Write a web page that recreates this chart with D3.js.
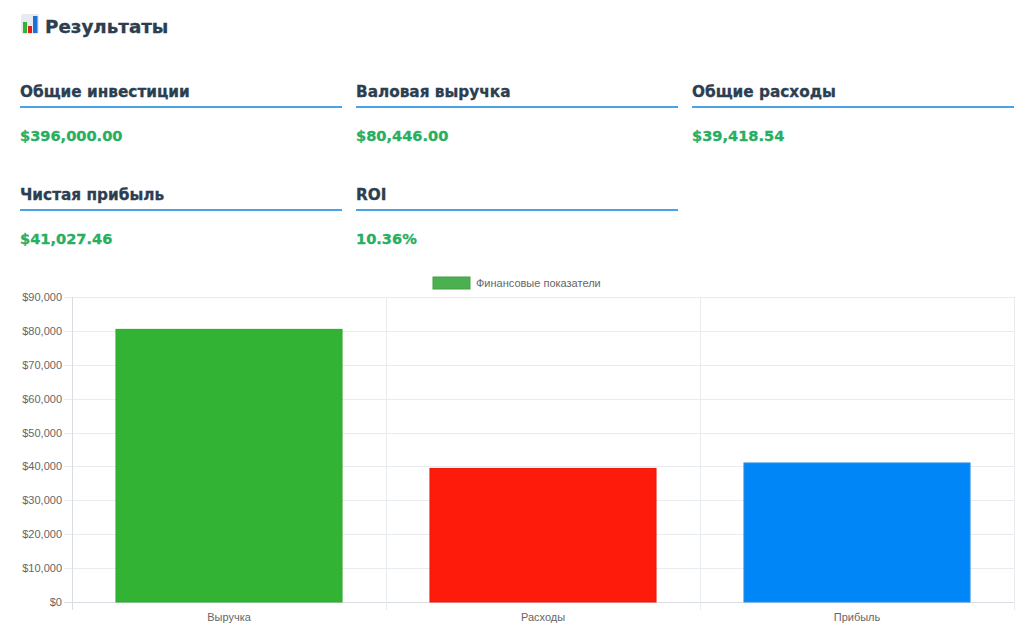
<!DOCTYPE html>
<html lang="ru">
<head>
<meta charset="UTF-8">
<title>Результаты</title>
<script src="https://d3js.org/d3.v7.min.js"></script>
<style>
  body { margin: 0; background: #fff; }
  svg { display: block; }
</style>
</head>
<body>
<script>

    var cardTitles = ["Общие инвестиции", "Валовая выручка", "Общие расходы", "Чистая прибыль", "ROI"];
    var cardValues = ["$396,000.00", "$80,446.00", "$39,418.54", "$41,027.46", "10.36%"];

    var categories = ["Выручка", "Расходы", "Прибыль"];
    var values = [80446.00, 39418.54, 41027.46];
    var barColors = ["#33b333", "#ff1b0b", "#0086f7"];
    var barBorders = ["#2ea82e", "#e8180a", "#2a8ee8"];
    var legendLabel = "Финансовые показатели";
    var yTicks = [0, 10000, 20000, 30000, 40000, 50000, 60000, 70000, 80000, 90000];

    var W = 1024, H = 630;
    var svg = d3.select("body").append("svg")
        .attr("width", W)
        .attr("height", H);

    var headFont = "DejaVu Sans, Verdana, sans-serif";

    // header icon
    var icon = svg.append("g").attr("transform", "translate(21,14)");
    icon.append("rect").attr("width", 18).attr("height", 20).attr("rx", 2).attr("fill", "#e6ebf0");
    icon.append("rect").attr("x", 2).attr("y", 8).attr("width", 4).attr("height", 11).attr("fill", "#2fb52f");
    icon.append("rect").attr("x", 7).attr("y", 12).attr("width", 4).attr("height", 7).attr("fill", "#e0201a");
    icon.append("rect").attr("x", 12).attr("y", 2).attr("width", 4.5).attr("height", 17).attr("fill", "#1e6fd9");

    svg.append("text")
        .attr("x", 45).attr("y", 33)
        .attr("font-family", headFont)
        .attr("font-weight", "bold")
        .attr("font-size", 18.3)
        .attr("fill", "#2c3e50")
        .attr("stroke", "#2c3e50").attr("stroke-width", 0.3)
        .text("Результаты");

    // stat cards
    var colX = [20, 356, 692];
    var rowY = [97, 200];
    var cards = svg.selectAll("g.card").data(cardTitles).enter().append("g")
        .attr("class", "card")
        .attr("transform", function (d, i) { return "translate(" + colX[i % 3] + "," + rowY[Math.floor(i / 3)] + ")"; });

    cards.append("text")
        .attr("font-family", headFont)
        .attr("font-weight", "bold")
        .attr("font-size", 15.3)
        .attr("fill", "#2c3e50")
        .attr("stroke", "#2c3e50").attr("stroke-width", 0.3)
        .text(function (d) { return d; });

    cards.append("rect")
        .attr("x", 0).attr("y", 9)
        .attr("width", 322).attr("height", 2)
        .attr("fill", "#4aa3e6");

    cards.append("text")
        .attr("y", 44)
        .attr("font-family", headFont)
        .attr("font-weight", "bold")
        .attr("font-size", 14.6)
        .attr("fill", "#27ae60")
        .attr("stroke", "#27ae60").attr("stroke-width", 0.3)
        .text(function (d, i) { return cardValues[i]; });

    // bar chart
    var plotL = 72, plotR = 1014, plotT = 297, plotB = 602;
    var font = "Liberation Sans, Helvetica, Arial, sans-serif";

    var x = d3.scaleBand().domain(categories).range([plotL, plotR]).paddingInner(0).paddingOuter(0);
    var y = d3.scaleLinear().domain([0, 90000]).range([plotB, plotT]);

    var grid = svg.append("g");
    grid.selectAll("line.h").data(yTicks).enter().append("line")
        .attr("x1", plotL - 8).attr("x2", plotR)
        .attr("y1", function (d) { return Math.round(y(d)) + 0.5; })
        .attr("y2", function (d) { return Math.round(y(d)) + 0.5; })
        .attr("stroke", function (d) { return d === 0 ? "#d9dde3" : "#e8ebef"; })
        .attr("stroke-width", 1);

    var vx = categories.map(function (c) { return x(c); }).concat([plotR]);
    grid.selectAll("line.v").data(vx).enter().append("line")
        .attr("x1", function (d) { return Math.round(d) + 0.5; })
        .attr("x2", function (d) { return Math.round(d) + 0.5; })
        .attr("y1", plotT).attr("y2", plotB + 8)
        .attr("stroke", function (d, i) { return i === 0 ? "#d9dde3" : "#e8ebef"; })
        .attr("stroke-width", 1);

    var yAxis = d3.axisLeft(y).tickValues(yTicks).tickSize(0).tickPadding(10)
        .tickFormat(function (d) { return "$" + d3.format(",")(d); });
    var ya = svg.append("g").attr("transform", "translate(" + plotL + ",0)").call(yAxis);
    ya.select(".domain").remove();
    ya.selectAll("text").attr("font-family", font).attr("font-size", 11).attr("fill", "#666");

    var xAxis = d3.axisBottom(x).tickSize(0).tickPadding(11);
    var xa = svg.append("g").attr("transform", "translate(0," + plotB + ")").call(xAxis);
    xa.select(".domain").remove();
    xa.selectAll("text").attr("font-family", font).attr("font-size", 11).attr("fill", "#666");

    var barW = x.bandwidth() * 0.72;
    svg.selectAll("rect.bar").data(values).enter().append("rect")
        .attr("class", "bar")
        .attr("x", function (d, i) { return x(categories[i]) + (x.bandwidth() - barW) / 2; })
        .attr("y", function (d) { return y(d); })
        .attr("width", barW)
        .attr("height", function (d) { return y(0) - y(d); })
        .attr("fill", function (d, i) { return barColors[i]; })
        .attr("stroke", function (d, i) { return barBorders[i]; })
        .attr("stroke-width", 1);

    // legend
    var lg = svg.append("g").attr("transform", "translate(433,277)");
    lg.append("rect").attr("width", 37).attr("height", 12)
        .attr("fill", "#4caf50").attr("stroke", "#43a047").attr("stroke-width", 1);
    lg.append("text").attr("x", 43).attr("y", 10)
        .attr("font-family", font).attr("font-size", 11).attr("fill", "#666")
        .text(legendLabel);

</script>
</body>
</html>
